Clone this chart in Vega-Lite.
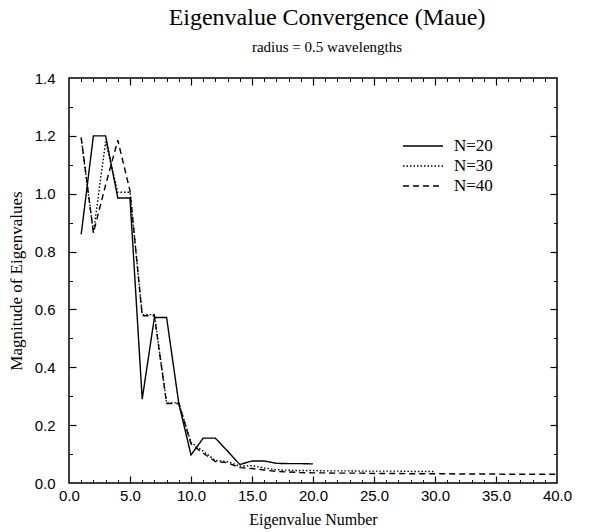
{
  "$schema": "https://vega.github.io/schema/vega-lite/v6.json",
  "width": 488,
  "height": 405,
  "autosize": "none",
  "padding": {"left": 69, "top": 78, "right": 38, "bottom": 49},
  "background": "white",
  "title": {
    "text": "Eigenvalue Convergence (Maue)",
    "subtitle": "radius = 0.5 wavelengths",
    "font": "Liberation Serif",
    "fontSize": 24,
    "fontWeight": "normal",
    "color": "black",
    "subtitleFont": "Liberation Serif",
    "subtitleFontSize": 15,
    "subtitleColor": "black",
    "subtitlePadding": 10,
    "offset": 16,
    "anchor": "middle",
    "dx": 14
  },
  "data": {
    "values": [
      {"N": "N=20", "n": 1, "v": 0.86}, {"N": "N=20", "n": 2, "v": 1.2}, {"N": "N=20", "n": 3, "v": 1.2},
      {"N": "N=20", "n": 4, "v": 0.985}, {"N": "N=20", "n": 5, "v": 0.985}, {"N": "N=20", "n": 6, "v": 0.29},
      {"N": "N=20", "n": 7, "v": 0.572}, {"N": "N=20", "n": 8, "v": 0.572}, {"N": "N=20", "n": 9, "v": 0.275},
      {"N": "N=20", "n": 10, "v": 0.097}, {"N": "N=20", "n": 11, "v": 0.155}, {"N": "N=20", "n": 12, "v": 0.155},
      {"N": "N=20", "n": 13, "v": 0.11}, {"N": "N=20", "n": 14, "v": 0.064}, {"N": "N=20", "n": 15, "v": 0.076},
      {"N": "N=20", "n": 16, "v": 0.076}, {"N": "N=20", "n": 17, "v": 0.068}, {"N": "N=20", "n": 18, "v": 0.067},
      {"N": "N=20", "n": 19, "v": 0.067}, {"N": "N=20", "n": 20, "v": 0.066},

      {"N": "N=30", "n": 1, "v": 1.19}, {"N": "N=30", "n": 2, "v": 0.865}, {"N": "N=30", "n": 3, "v": 1.18},
      {"N": "N=30", "n": 4, "v": 1.005}, {"N": "N=30", "n": 5, "v": 1.005}, {"N": "N=30", "n": 6, "v": 0.582},
      {"N": "N=30", "n": 7, "v": 0.582}, {"N": "N=30", "n": 8, "v": 0.277}, {"N": "N=30", "n": 9, "v": 0.277},
      {"N": "N=30", "n": 10, "v": 0.14}, {"N": "N=30", "n": 11, "v": 0.11}, {"N": "N=30", "n": 12, "v": 0.078},
      {"N": "N=30", "n": 13, "v": 0.074}, {"N": "N=30", "n": 14, "v": 0.058}, {"N": "N=30", "n": 15, "v": 0.06},
      {"N": "N=30", "n": 16, "v": 0.052}, {"N": "N=30", "n": 17, "v": 0.046}, {"N": "N=30", "n": 18, "v": 0.044},
      {"N": "N=30", "n": 19, "v": 0.043}, {"N": "N=30", "n": 20, "v": 0.043}, {"N": "N=30", "n": 21, "v": 0.042},
      {"N": "N=30", "n": 22, "v": 0.042}, {"N": "N=30", "n": 23, "v": 0.042}, {"N": "N=30", "n": 24, "v": 0.041},
      {"N": "N=30", "n": 25, "v": 0.041}, {"N": "N=30", "n": 26, "v": 0.041}, {"N": "N=30", "n": 27, "v": 0.041},
      {"N": "N=30", "n": 28, "v": 0.04}, {"N": "N=30", "n": 29, "v": 0.04}, {"N": "N=30", "n": 30, "v": 0.04},

      {"N": "N=40", "n": 1, "v": 1.195}, {"N": "N=40", "n": 2, "v": 0.865}, {"N": "N=40", "n": 3, "v": 1.03},
      {"N": "N=40", "n": 4, "v": 1.185}, {"N": "N=40", "n": 5, "v": 1.01}, {"N": "N=40", "n": 6, "v": 0.578},
      {"N": "N=40", "n": 7, "v": 0.578}, {"N": "N=40", "n": 8, "v": 0.275}, {"N": "N=40", "n": 9, "v": 0.275},
      {"N": "N=40", "n": 10, "v": 0.135}, {"N": "N=40", "n": 11, "v": 0.103}, {"N": "N=40", "n": 12, "v": 0.074},
      {"N": "N=40", "n": 13, "v": 0.07}, {"N": "N=40", "n": 14, "v": 0.053}, {"N": "N=40", "n": 15, "v": 0.05},
      {"N": "N=40", "n": 16, "v": 0.045}, {"N": "N=40", "n": 17, "v": 0.04}, {"N": "N=40", "n": 18, "v": 0.038},
      {"N": "N=40", "n": 19, "v": 0.036}, {"N": "N=40", "n": 20, "v": 0.035}, {"N": "N=40", "n": 21, "v": 0.035},
      {"N": "N=40", "n": 22, "v": 0.034}, {"N": "N=40", "n": 23, "v": 0.034}, {"N": "N=40", "n": 24, "v": 0.034},
      {"N": "N=40", "n": 25, "v": 0.033}, {"N": "N=40", "n": 26, "v": 0.033}, {"N": "N=40", "n": 27, "v": 0.033},
      {"N": "N=40", "n": 28, "v": 0.032}, {"N": "N=40", "n": 29, "v": 0.032}, {"N": "N=40", "n": 30, "v": 0.032},
      {"N": "N=40", "n": 31, "v": 0.032}, {"N": "N=40", "n": 32, "v": 0.031}, {"N": "N=40", "n": 33, "v": 0.031},
      {"N": "N=40", "n": 34, "v": 0.031}, {"N": "N=40", "n": 35, "v": 0.031}, {"N": "N=40", "n": 36, "v": 0.03},
      {"N": "N=40", "n": 37, "v": 0.03}, {"N": "N=40", "n": 38, "v": 0.03}, {"N": "N=40", "n": 39, "v": 0.03},
      {"N": "N=40", "n": 40, "v": 0.03}
    ]
  },
  "layer": [
    {
      "mark": {"type": "line", "color": "black", "strokeWidth": 1.4},
      "encoding": {
        "x": {
          "field": "n", "type": "quantitative",
          "scale": {"domain": [0, 40], "nice": false, "zero": false},
          "axis": {
            "orient": "bottom", "values": [0, 5, 10, 15, 20, 25, 30, 35, 40], "format": ".1f",
            "ticks": false, "domain": false, "grid": false, "labelFlush": false, "labelOverlap": false,
            "labelFont": "Liberation Sans", "labelFontSize": 15, "labelColor": "black", "labelPadding": 5,
            "title": "Eigenvalue Number", "titleFont": "Liberation Serif", "titleFontSize": 16,
            "titleFontWeight": "normal", "titleColor": "black", "titlePadding": 8
          }
        },
        "y": {
          "field": "v", "type": "quantitative",
          "scale": {"domain": [0, 1.4], "nice": false},
          "axis": {
            "orient": "left", "values": [0, 0.2, 0.4, 0.6, 0.8, 1.0, 1.2, 1.4], "format": ".1f",
            "ticks": false, "domain": false, "grid": false, "labelOverlap": false, "labelFlush": false,
            "labelFont": "Liberation Sans", "labelFontSize": 15, "labelColor": "black", "labelPadding": 14,
            "title": "Magnitude of Eigenvalues", "titleFont": "Liberation Serif", "titleFontSize": 17,
            "titleFontWeight": "normal", "titleColor": "black", "titlePadding": 9
          }
        },
        "strokeDash": {
          "field": "N", "type": "nominal",
          "scale": {"domain": ["N=20", "N=30", "N=40"], "range": [[1, 0], [1.5, 2], [6, 4]]},
          "legend": {
            "orient": "none", "legendX": 343, "legendY": 57, "title": null, "padding": 0,
            "symbolType": "M-2,0H2", "symbolSize": 400, "symbolStrokeWidth": 1.3,
            "symbolStrokeColor": "black", "symbolFillColor": "transparent",
            "labelFont": "Liberation Serif", "labelFontSize": 17, "labelColor": "black",
            "labelOffset": 20, "rowPadding": 1
          }
        }
      }
    },
    {
      "mark": {"type": "point", "opacity": 0},
      "encoding": {
        "x": {
          "field": "n", "type": "quantitative",
          "scale": {"domain": [0, 40], "nice": false, "zero": false},
          "axis": {"orient": "bottom", "values": [5, 10, 15, 20, 25, 30, 35], "labels": false, "domain": false,
            "grid": false, "tickSize": -7, "tickWidth": 1.2, "tickColor": "black", "title": null}
        },
        "y": {
          "field": "v", "type": "quantitative",
          "scale": {"domain": [0, 1.4], "nice": false},
          "axis": {"orient": "left", "values": [0.2, 0.4, 0.6, 0.8, 1.0, 1.2], "labels": false, "domain": false,
            "grid": false, "tickSize": -7, "tickWidth": 1.2, "tickColor": "black", "title": null}
        }
      }
    },
    {
      "mark": {"type": "point", "opacity": 0},
      "encoding": {
        "x": {
          "field": "n", "type": "quantitative",
          "scale": {"domain": [0, 40], "nice": false, "zero": false},
          "axis": {"orient": "top", "values": [5, 10, 15, 20, 25, 30, 35], "labels": false, "domain": false,
            "grid": false, "tickSize": -7, "tickWidth": 1.2, "tickColor": "black", "title": null}
        },
        "y": {
          "field": "v", "type": "quantitative",
          "scale": {"domain": [0, 1.4], "nice": false},
          "axis": {"orient": "right", "values": [0.2, 0.4, 0.6, 0.8, 1.0, 1.2], "labels": false, "domain": false,
            "grid": false, "tickSize": -7, "tickWidth": 1.2, "tickColor": "black", "title": null}
        }
      }
    },
    {
      "mark": {"type": "point", "opacity": 0},
      "encoding": {
        "x": {
          "field": "n", "type": "quantitative",
          "scale": {"domain": [0, 40], "nice": false, "zero": false},
          "axis": {"orient": "bottom", "values": [1, 2, 3, 4, 6, 7, 8, 9, 11, 12, 13, 14, 16, 17, 18, 19, 21, 22, 23, 24, 26, 27, 28, 29, 31, 32, 33, 34, 36, 37, 38, 39],
            "labels": false, "domain": false, "grid": false, "tickSize": -3.5, "tickWidth": 1, "tickColor": "black", "title": null}
        },
        "y": {
          "field": "v", "type": "quantitative",
          "scale": {"domain": [0, 1.4], "nice": false},
          "axis": {"orient": "left", "values": [0.1, 0.3, 0.5, 0.7, 0.9, 1.1, 1.3], "labels": false, "domain": false,
            "grid": false, "tickSize": -3.5, "tickWidth": 1, "tickColor": "black", "title": null}
        }
      }
    },
    {
      "mark": {"type": "point", "opacity": 0},
      "encoding": {
        "x": {
          "field": "n", "type": "quantitative",
          "scale": {"domain": [0, 40], "nice": false, "zero": false},
          "axis": {"orient": "top", "values": [1, 2, 3, 4, 6, 7, 8, 9, 11, 12, 13, 14, 16, 17, 18, 19, 21, 22, 23, 24, 26, 27, 28, 29, 31, 32, 33, 34, 36, 37, 38, 39],
            "labels": false, "domain": false, "grid": false, "tickSize": -3.5, "tickWidth": 1, "tickColor": "black", "title": null}
        },
        "y": {
          "field": "v", "type": "quantitative",
          "scale": {"domain": [0, 1.4], "nice": false},
          "axis": {"orient": "right", "values": [0.1, 0.3, 0.5, 0.7, 0.9, 1.1, 1.3], "labels": false, "domain": false,
            "grid": false, "tickSize": -3.5, "tickWidth": 1, "tickColor": "black", "title": null}
        }
      }
    }
  ],
  "resolve": {"axis": {"x": "independent", "y": "independent"}},
  "config": {
    "view": {"stroke": "black", "strokeWidth": 1.5},
    "axis": {"grid": false}
  }
}
